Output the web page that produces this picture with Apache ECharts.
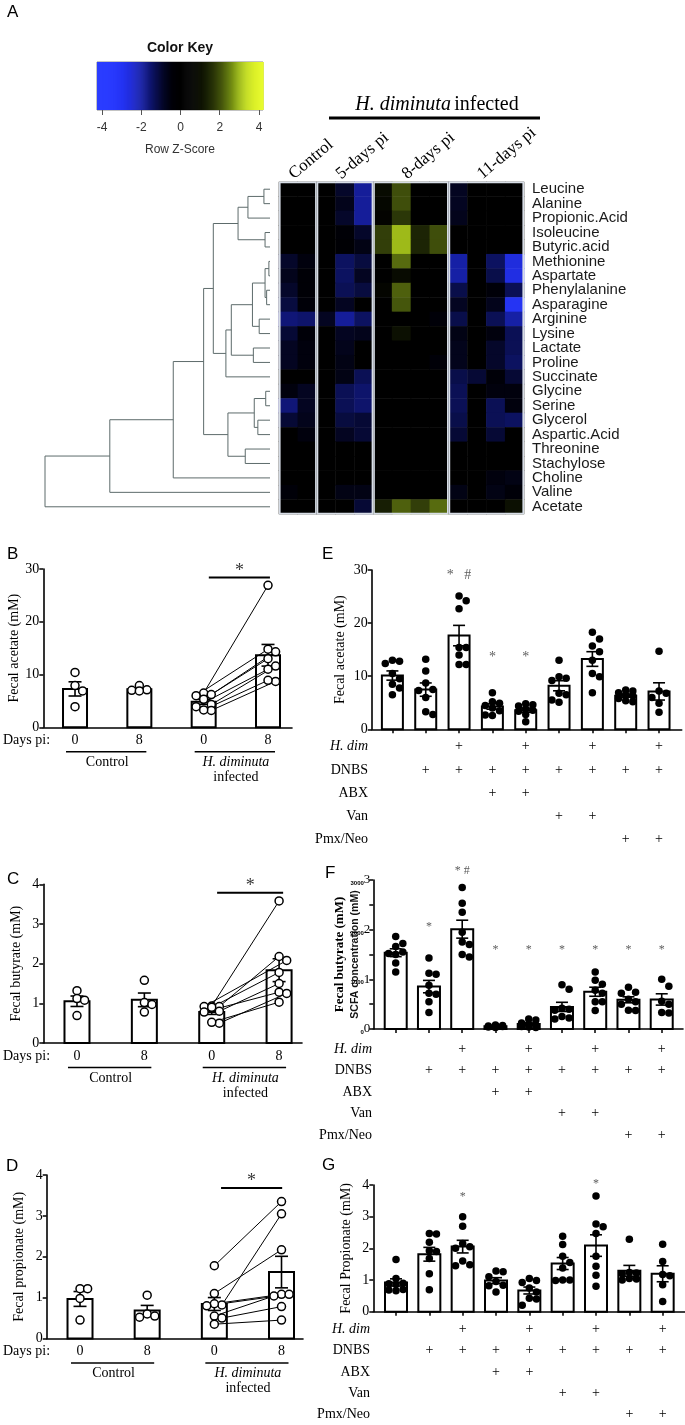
<!DOCTYPE html>
<html><head><meta charset="utf-8">
<script src="https://cdn.jsdelivr.net/npm/echarts@6/dist/echarts.min.js"></script>
<style>html,body{margin:0;padding:0;background:#fff}#c{width:685px;height:1425px}</style>
</head><body><div id="c"></div>
<script>
// ================= DATA =================
// Panel A heatmap
const metabolites = ['Leucine','Alanine','Propionic.Acid','Isoleucine','Butyric.acid','Methionine','Aspartate','Phenylalanine','Asparagine','Arginine','Lysine','Lactate','Proline','Succinate','Glycine','Serine','Glycerol','Aspartic.Acid','Threonine','Stachylose','Choline','Valine','Acetate'];
const sampleCols = ['C1','C2','P5a','P5b','P5c','P8a','P8b','P8c','P8d','P11a','P11b','P11c','P11d'];
const groupNames = ['Control','5-days pi','8-days pi','11-days pi'];
const groupSpans = [[0,2],[2,5],[5,9],[9,13]];
const zScores = [
  [0,0, 0,-0.9,-1.9, 0.9,2.0,0,0, -0.8,0,0,0],
  [0,0, 0,-0.7,-1.9, 0.8,2.0,0,0, -0.8,0,0,0],
  [0,0, 0,-0.9,-1.9, 0.6,1.7,0,0, -0.7,0,0,0],
  [0,0, 0,-0.3,-0.9, 1.8,3.0,1.4,2.0, 0,0,0,0],
  [0,0, 0,-0.2,-0.6, 1.8,3.0,1.4,2.0, 0,0,0,0],
  [-0.9,-0.5, 0,-1.4,-1.1, 0,2.3,0,0, -2.0,0,-1.4,-2.6],
  [-0.7,-0.3, 0,-1.4,-0.8, 0,0.9,0,0, -2.0,0,-1.2,-2.7],
  [-0.9,-0.3, 0,-1.3,-1.1, 0.7,2.2,0,0, -1.2,0,-0.4,-1.3],
  [-1.1,-0.4, 0,-0.8,0, 0,2.1,0,0, -0.8,0,-0.7,-3.0],
  [-1.6,-1.5, -0.8,-1.9,-1.4, 0,0,0,-0.4, -1.2,0,-1.3,-2.0],
  [-1.0,-0.4, 0,-0.8,-0.7, 0,1.0,0,0, -0.6,0,-0.5,-1.3],
  [-0.8,-0.5, 0,-0.7,0, 0,0,0,0, -0.7,0,-0.9,-1.3],
  [-0.8,-0.5, 0,-0.6,0, 0,0,0,-0.4, -0.7,0,-0.9,-1.4],
  [0,0, 0,-0.6,-1.3, 0,0,0,0, -1.2,-1.0,-0.4,-1.0],
  [-0.5,-0.8, 0,-1.3,-1.5, 0,0,0,0, -1.3,0,-0.5,-0.5],
  [-1.6,-0.8, 0,-1.3,-1.5, 0,0,0,0, -1.3,0,-1.3,-0.5],
  [-1.0,-0.7, 0,-1.1,-1.0, 0,0,0,0, -1.2,0,-1.3,-1.4],
  [0,-0.5, 0,-0.8,-1.0, 0,0,0,0, -1.0,0,-1.0,0],
  [0,0, 0,0,0, 0,0,0,0, 0,0,0,0],
  [0,0, 0,0,0, 0,0,0,0, 0,0,0,0],
  [0,0, 0,0,0, 0,0,0,0, 0,0,-0.5,-0.6],
  [-0.4,0, 0,-0.6,-0.6, 0,0,0,0, -0.6,0,-0.6,-0.4],
  [0,0, 0,0,-1.0, 1.3,2.2,1.8,2.3, 0,0,0,1.0]
];
// dendrogram merges: [childA, childB, height]; numbers refer to earlier merges
const dendroMerges = [
  ['Leucine','Alanine',0.27],[0,'Propionic.Acid',0.98],['Isoleucine','Butyric.acid',0.22],[1,2,1.42],
  ['Methionine','Aspartate',0.05],['Phenylalanine','Asparagine',0.15],[4,5,0.22],['Arginine','Lysine',0.48],
  [6,7,0.78],['Lactate','Proline',0.74],[8,9,1.72],[10,'Succinate',1.96],[3,11,2.52],
  ['Glycine','Serine',0.19],['Glycerol','Aspartic.Acid',0.54],[13,14,0.70],['Threonine','Stachylose',1.10],
  [15,16,1.87],[12,17,2.95],[18,'Choline',4.3],[19,'Valine',7.12],[20,'Acetate',10]
];
const keyTicks = [-4,-2,0,2,4];

// Panels B-D (paired, H. diminuta)
const dayLabels = ['0','8','0','8'];
const bCtrl0 = [10.4, 7.9, 6.9, 3.9];
const bCtrl8 = [7.9, 7.1, 7.0, 6.9];
const bInf0 = [6.5, 6.0, 6.2, 5.3, 4.3, 3.9, 3.2, 3.3];
const bInf8 = [26.9, 14.8, 14.3, 13.0, 11.6, 11.0, 8.7, 8.9];
const cCtrl0 = [1.32, 1.12, 1.08, 0.69];
const cCtrl8 = [1.58, 1.02, 0.97, 0.78];
const cInf0 = [0.93, 0.92, 0.92, 0.9, 0.8, 0.78, 0.5, 0.52];
const cInf8 = [3.58, 2.18, 2.08, 1.78, 1.5, 1.28, 1.25, 1.03];
const dCtrl0 = [1.22, 1.22, 0.98, 0.45];
const dCtrl8 = [1.06, 0.6, 0.52, 0.55];
const dInf0 = [1.78, 1.1, 0.82, 0.85, 0.8, 0.55, 0.5, 0.35];
const dInf8 = [3.35, 2.17, 3.05, 1.08, 1.08, 1.04, 0.78, 0.45];
const bSig = [2.08, 3.03, 28.4];
const cSig = [2.08, 3.06, 3.79];
const dSig = [2.1, 3.01, 3.68];

// Panels E-G (DNBS colitis groups)
const eAcetate = [
  [13.0,12.8,12.4,10.5,9.5,8.5,7.8,6.5],
  [13.2,11.0,8.7,7.5,7.3,6.0,3.3,2.8],
  [25.1,24.2,22.7,15.4,15.4,14.0,12.2,12.2],
  [6.9,5.2,4.9,4.5,4.0,3.5,2.7,2.6],
  [4.8,4.6,4.4,3.8,3.6,3.4,2.8,1.4],
  [13.0,9.9,9.6,9.2,6.5,6.8,5.5,5.1],
  [18.3,17.0,15.7,14.6,13.0,10.5,9.9,6.9],
  [7.4,7.2,6.9,6.5,6.3,5.8,5.4,5.2],
  [14.7,7.2,6.8,6.0,4.9,3.2]
];
const fButyrate = [
  [1.86,1.72,1.66,1.55,1.52,1.5,1.33,1.15],
  [1.43,1.12,1.1,0.88,0.72,0.7,0.55,0.33],
  [2.85,2.53,2.35,1.95,1.75,1.7,1.5,1.45],
  [0.08,0.07,0.06,0.05,0.05,0.04,0.03],
  [0.2,0.18,0.12,0.1,0.08,0.05,0.04,0.03],
  [0.89,0.8,0.42,0.4,0.38,0.25,0.22,0.2],
  [1.15,0.98,0.9,0.78,0.72,0.55,0.55,0.37],
  [0.84,0.74,0.72,0.6,0.55,0.5,0.38,0.37],
  [1.0,0.86,0.56,0.5,0.33,0.32]
];
const gPropionate = [
  [1.65,1.05,0.9,0.88,0.86,0.7,0.68,0.66],
  [2.47,2.45,2.19,1.92,1.9,1.68,1.2,0.69],
  [3.0,2.7,2.15,2.05,2.0,1.6,1.48,1.45],
  [1.28,1.26,1.1,0.95,0.83,0.82,0.62],
  [1.05,0.98,0.92,0.75,0.62,0.42,0.4,0.2],
  [2.38,2.12,1.75,1.55,1.38,1.0,1.0,0.98],
  [3.65,2.77,2.68,2.47,1.75,1.43,1.15,0.8],
  [2.29,1.24,1.22,1.2,1.05,1.03,1.0],
  [2.13,1.58,1.17,1.13,0.85,0.32]
];
const eStars = [[2,29.0,'*   #'],[3,13.6,'*'],[4,13.6,'*']];
const fStars = [[1,2.05,'*'],[2,3.18,'* #'],[3,1.6,'*'],[4,1.6,'*'],[5,1.6,'*'],[6,1.6,'*'],[7,1.6,'*'],[8,1.6,'*']];
const gStars = [[2,3.62,'*'],[6,4.05,'*']];
const treatRows = ['H. dim','DNBS','ABX','Van','Pmx/Neo'];
const hdimRow = [0,0,1,0,1,0,1,0,1];
const dnbsRow = [0,1,1,1,1,1,1,1,1];
const abxRow  = [0,0,0,1,1,0,0,0,0];
const vanRow  = [0,0,0,0,0,1,1,0,0];
const pmxRow  = [0,0,0,0,0,0,0,1,1];
const treatTable = [hdimRow, dnbsRow, abxRow, vanRow, pmxRow];

// ================= LAYOUT =================
const SERIF = "'Liberation Serif','Times New Roman',serif";
const SANS = "'Liberation Sans',Arial,sans-serif";
const G = {
  dendro:{left:45, top:182, width:225, height:332},
  heat:{left:279, top:182, width:245, height:332},
  key:{left:97, top:62, width:166, height:48},
  B:{left:43.3, top:569, width:248.7, height:158.3, xmin:-0.493, xmax:3.373, ymax:30, yint:10},
  C:{left:43.3, top:884.3, width:258.7, height:158.7, xmin:-0.5, xmax:3.34, ymax:4, yint:1},
  D:{left:46.7, top:1175, width:256.3, height:163.5, xmin:-0.496, xmax:3.32, ymax:4, yint:1},
  E:{left:371.7, top:570, width:310, height:159.3, xmin:-0.621, xmax:8.68, ymax:30, yint:10},
  F:{left:373.3, top:880, width:309.7, height:149, xmin:-0.674, xmax:8.64, ymax:3, yint:0.5},
  Gp:{left:373.3, top:1185, width:311.7, height:132.3, xmin:-0.681, xmax:8.67, ymax:4, yint:1}
};
const palette = ['#2b3dff','#2a3cff','#2838fc','#2433f2','#1f2bd8','#1822b0','#111880','#0a0f50','#040624','#000008','#000000','#000000','#060800','#151c04','#2a3508','#45560c','#6a8212','#98b418','#c2dc20','#dcf028','#e8fb30'];

function gridOf(g){return {left:g.left, top:g.top, width:g.width, height:g.height, containLabel:false};}
const grids = [gridOf(G.dendro), gridOf(G.heat), gridOf(G.heat), Object.assign(gridOf(G.key),{show:true,borderColor:'#888',borderWidth:1}),
  gridOf(G.B), gridOf(G.C), gridOf(G.D), gridOf(G.E), gridOf(G.F), gridOf(G.Gp)];
const hid = {show:false};
const xAxes = [], yAxes = [], series = [];

// ---- dendrogram (grid 0)
xAxes.push({gridIndex:0, type:'value', min:0, max:10, inverse:true, show:false});
yAxes.push({gridIndex:0, type:'value', min:-0.5, max:22.5, inverse:true, show:false});
(function(){
  const nodes = [];
  const info = c => typeof c === 'number' ? nodes[c] : {y: metabolites.indexOf(c), h:0};
  const lines = [];
  dendroMerges.forEach(m => {
    const a = info(m[0]), b = info(m[1]), h = m[2];
    lines.push({coords:[[a.h,a.y],[h,a.y],[h,b.y],[b.h,b.y]]});
    nodes.push({y:(a.y+b.y)/2, h:h});
  });
  series.push({type:'lines', coordinateSystem:'cartesian2d', xAxisIndex:0, yAxisIndex:0, polyline:true, silent:true,
    lineStyle:{color:'#5d6b6b', width:1, opacity:1}, data:lines});
})();

// ---- heatmap (grid 1)
xAxes.push({gridIndex:1, type:'category', data:sampleCols, show:false});
yAxes.push({gridIndex:1, type:'category', data:metabolites, inverse:true, position:'right',
  axisLine:hid, axisTick:hid, axisLabel:{interval:0, fontFamily:SANS, fontSize:15, color:'#1a1a1a', margin:8}});
const heatData = [];
zScores.forEach((row,r)=>row.forEach((z,c)=>heatData.push([c,r,z])));
const heatIdx = series.length;
series.push({type:'heatmap', xAxisIndex:1, yAxisIndex:1, data:heatData, silent:true, emphasis:{disabled:true}});

// ---- heatmap overlay: group boxes + column group labels (grid 2)
const groupLabelAt = groupSpans.map(s => (s[0]+s[1])/2 - 0.35);
xAxes.push({gridIndex:2, type:'value', min:0, max:13, position:'top', axisLine:hid, axisTick:hid, splitLine:hid,
  axisLabel:{customValues:groupLabelAt, rotate:40, margin:6, fontFamily:SERIF, fontSize:17, color:'#000',
    formatter:(v,i)=>groupNames[groupLabelAt.findIndex(x=>Math.abs(x-v)<1e-6)]}});
yAxes.push({gridIndex:2, type:'value', min:0, max:1, show:false});
series.push({type:'custom', xAxisIndex:2, yAxisIndex:2, silent:true, data:groupSpans,
  renderItem:(p,api)=>{const a=api.coord([api.value(0),1]), b=api.coord([api.value(1),0]);
    return {type:'rect', shape:{x:a[0]+0.8,y:a[1]+0.5,width:b[0]-a[0]-1.6,height:b[1]-a[1]-1},
      style:{fill:'none', stroke:'#d7dde6', lineWidth:1.6}};}});

// ---- color key (grid 3)
xAxes.push({gridIndex:3, type:'value', min:-4.255, max:4.204, position:'bottom', axisLine:hid, splitLine:hid,
  axisTick:{customValues:keyTicks, length:5, lineStyle:{color:'#555', width:1}},
  axisLabel:{customValues:keyTicks, fontFamily:SANS, fontSize:12, color:'#333', margin:12},
  name:'Row Z-Score', nameLocation:'middle', nameGap:34, nameTextStyle:{fontFamily:SANS, fontSize:12, color:'#333'}});
yAxes.push({gridIndex:3, type:'value', min:0, max:1, show:false});
const keySteps = [];
for (let v=-4.255; v<4.204; v+=0.05) keySteps.push([v, Math.min(v+0.05,4.204), v+0.025]);
const keyIdx = series.length;
series.push({type:'custom', xAxisIndex:3, yAxisIndex:3, silent:true, data:keySteps,
  renderItem:(p,api)=>{const a=api.coord([api.value(0),1]), b=api.coord([api.value(1),0]);
    return {type:'rect', shape:{x:a[0],y:a[1],width:b[0]-a[0]+0.6,height:b[1]-a[1]}, style:{fill:api.visual('color')}};}});

// ---- helpers for bar panels
const meanOf = a => a.reduce((s,v)=>s+v,0)/a.length;
const semOf = a => {const m=meanOf(a); return Math.sqrt(a.reduce((s,v)=>s+(v-m)*(v-m),0)/(a.length-1))/Math.sqrt(a.length);};
function swarm(vals, pxY, diam, maxOff){
  const placed=[], out=new Array(vals.length);
  const order = vals.map((v,i)=>i).sort((a,b)=>vals[b]-vals[a]);
  const cands=[0]; for(let k=1;k<=6;k++){cands.push(k*diam*0.95, -k*diam*0.95);}
  order.forEach(i=>{
    const y=vals[i]*pxY; let best=null, bestD=-1;
    for(const c of cands){ if(Math.abs(c)>maxOff) continue;
      const d = placed.length? Math.min(...placed.map(p=>Math.hypot(p.x-c,p.y-y))) : 1e9;
      if(d>=diam*0.98){best=c; bestD=d; break;}
      if(d>bestD){bestD=d; best=c;}
    }
    placed.push({x:best,y:y}); out[i]=best;
  });
  return out;
}
function barRender(w){return (p,api)=>{const x=api.value(0), v=api.value(1);
  const t=api.coord([x,v]), b=api.coord([x,0]);
  return {type:'rect', shape:{x:t[0]-w/2,y:t[1],width:w,height:b[1]-t[1]}, style:{fill:'#fff',stroke:'#000',lineWidth:2}};};}
function errRender(cap){return (p,api)=>{const x=api.value(0), m=api.value(1), s=api.value(2);
  const hi=api.coord([x,m+s]), lo=api.coord([x,m-s]); const st={stroke:'#000',lineWidth:1.6};
  return {type:'group', children:[
    {type:'line',shape:{x1:hi[0],y1:hi[1],x2:lo[0],y2:lo[1]},style:st},
    {type:'line',shape:{x1:hi[0]-cap/2,y1:hi[1],x2:hi[0]+cap/2,y2:hi[1]},style:st},
    {type:'line',shape:{x1:lo[0]-cap/2,y1:lo[1],x2:lo[0]+cap/2,y2:lo[1]},style:st}]};};}

const clear = 'rgba(0,0,0,0)';
function addBarPanel(gi, g, groups, o){
  const pxX = g.width/(g.xmax-g.xmin), pxY = g.height/g.ymax;
  const idx = groups.map((_,i)=>i);
  xAxes.push({gridIndex:gi, type:'value', min:g.xmin, max:g.xmax, splitLine:hid,
    axisLine:{onZero:false, lineStyle:{color:'#000', width:1.6}},
    axisTick:o.xTicks ? {customValues:idx, length:4, lineStyle:{color:'#000', width:1.5}} : hid,
    axisLabel:{customValues:idx, formatter:o.xFmt, fontFamily:SERIF, fontSize:o.xFont||14, color:'#000', margin:o.xMargin, lineHeight:o.xLine}});
  yAxes.push({gridIndex:gi, type:'value', min:0, max:g.ymax, interval:g.yint, splitLine:hid,
    axisLine:{show:true, onZero:false, lineStyle:{color:'#000', width:1.6}},
    axisTick:{show:true, length:4, lineStyle:{color:'#000', width:1.5}},
    axisLabel:Object.assign({fontFamily:SERIF, fontSize:14, color:'#000', margin:4}, o.yLabel||{}),
    name:o.yName, nameLocation:'middle', nameGap:o.nameGap, nameTextStyle:Object.assign({fontFamily:SERIF, fontSize:14, color:'#000'}, o.nameStyle||{})});
  const xi = xAxes.length-1, yi = yAxes.length-1;
  const ax = {xAxisIndex:xi, yAxisIndex:yi};
  const offs = groups.map(vals=>swarm(vals, pxY, o.dot, o.barW/2).map(px=>px/pxX));
  series.push(Object.assign({type:'custom', silent:true, z:2, data:groups.map((v,i)=>[i, meanOf(v)]), renderItem:barRender(o.barW)}, ax));
  if (o.pairs) {
    const [a,b] = o.pairs;
    series.push(Object.assign({type:'lines', coordinateSystem:'cartesian2d', silent:true, z:3,
      lineStyle:{color:'#000', width:1, opacity:1},
      data:groups[a].map((v,k)=>({coords:[[a+offs[a][k], v],[b+offs[b][k], groups[b][k]]]}))}, ax));
  }
  series.push(Object.assign({type:'custom', silent:true, z:4, data:groups.map((v,i)=>[i, meanOf(v), semOf(v)]), renderItem:errRender(o.cap)}, ax));
  const pts = [];
  groups.forEach((vals,i)=>vals.forEach((v,k)=>pts.push([i+offs[i][k], v])));
  series.push(Object.assign({type:'scatter', silent:true, z:5, clip:false, data:pts, symbol:'circle', symbolSize:o.dot,
    itemStyle:o.open ? {color:'#fff', borderColor:'#000', borderWidth:1.5, opacity:1} : {color:'#000', opacity:1}}, ax));
  if (o.sig) {
    series.push(Object.assign({type:'line', silent:true, z:5, symbol:'none', clip:false,
      lineStyle:{color:'#000', width:2}, data:[[o.sig[0], o.sig[2]],[o.sig[1], o.sig[2]]]}, ax));
    series.push(Object.assign({type:'scatter', silent:true, z:5, clip:false, symbolSize:1, itemStyle:{color:clear},
      data:[[(o.sig[0]+o.sig[1])/2, o.sig[2]]],
      label:{show:true, formatter:'*', position:'top', distance:-3, fontFamily:SERIF, fontSize:18, color:'#000'}}, ax));
  }
  if (o.stars) {
    series.push(Object.assign({type:'scatter', silent:true, z:5, clip:false, symbolSize:1, itemStyle:{color:clear},
      data:o.stars.map(s=>({value:[s[0], s[1]], label:{formatter:s[2]}})),
      label:{show:true, position:'inside', fontFamily:SERIF, fontSize:o.starFont||13, color:'#333'}}, ax));
  }
  return yi;
}
const dayFmt = (v)=>dayLabels[Math.round(v)];
const treatFmt = (v)=>{const i=Math.round(v); return treatTable.map(r=>r[i]?'+':' ').join('\n');};

addBarPanel(4, G.B, [bCtrl0,bCtrl8,bInf0,bInf8], {open:true, dot:8, barW:24, cap:13, pairs:[2,3], sig:bSig, xFmt:dayFmt, xMargin:6, yName:'Fecal acetate (mM)', nameGap:20});
addBarPanel(5, G.C, [cCtrl0,cCtrl8,cInf0,cInf8], {open:true, dot:8, barW:25, cap:13, pairs:[2,3], sig:cSig, xFmt:dayFmt, xMargin:6, yName:'Fecal butyrate (mM)', nameGap:20});
addBarPanel(6, G.D, [dCtrl0,dCtrl8,dInf0,dInf8], {open:true, dot:8, barW:25, cap:13, pairs:[2,3], sig:dSig, xFmt:dayFmt, xMargin:6, yName:'Fecal propionate (mM)', nameGap:20});
addBarPanel(7, G.E, eAcetate, {open:false, dot:7.5, barW:21, cap:12, xTicks:true, xFmt:treatFmt, xMargin:5.8, xLine:23.2, stars:eStars, starFont:14, yName:'Fecal acetate (mM)', nameGap:24});
addBarPanel(8, G.F, fButyrate, {open:false, dot:7.5, barW:22, cap:12, xTicks:true, xFmt:treatFmt, xMargin:9.6, xLine:21.4, stars:fStars, starFont:12, yName:'Fecal butyrate (mM)', nameGap:11,
  nameStyle:{fontWeight:'bold', fontSize:13},
  yLabel:{margin:3, formatter:v=>Math.abs(v-Math.round(v))<1e-6 ? '{s|'+Math.round(v*1000)+'}{b|'+Math.round(v)+'}' : '',
    rich:{s:{fontFamily:SANS, fontSize:6, fontWeight:'bold', color:'#000', verticalAlign:'bottom'}, b:{fontFamily:SERIF, fontSize:13, color:'#000'}}}});
addBarPanel(9, G.Gp, gPropionate, {open:false, dot:7.5, barW:22, cap:12, xTicks:true, xFmt:treatFmt, xMargin:7.1, xLine:21.25, stars:gStars, starFont:12, yName:'Fecal Propionate (mM)', nameGap:20});
// overlapping second title on panel F (as in the source figure)
yAxes.push({gridIndex:8, type:'value', position:'left', min:0, max:3, axisLine:{show:false, onZero:false}, axisTick:hid, axisLabel:hid, splitLine:hid,
  name:'SCFA concentration (mM)', nameLocation:'middle', nameGap:13, nameTextStyle:{fontFamily:SANS, fontSize:10.5, fontWeight:'bold', color:'#111'}});

const option = {
  animation:false, backgroundColor:'#fff',
  grid:grids, xAxis:xAxes, yAxis:yAxes, series:series,
  visualMap:[{type:'continuous', show:false, min:-4.2, max:4.2, dimension:2, seriesIndex:[heatIdx, keyIdx], inRange:{color:palette}}]
};
const chart = echarts.init(document.getElementById('c'), null, {width:685, height:1425});
chart.setOption(option);

// ================= ANNOTATIONS (graphic) =================
function T(x,y,text,o){return {type:'text', silent:true, x:x, y:y, style:Object.assign({text:text, fill:'#000', align:'left', verticalAlign:'middle', textAlign:'left', textVerticalAlign:'middle'}, o||{})};}
function Lh(x1,x2,y,w){return {type:'line', silent:true, shape:{x1:x1,y1:y,x2:x2,y2:y}, style:{stroke:'#000', lineWidth:w||1.5}};}
const gfx = [];
const letter = (t,x,y)=>gfx.push(T(x,y,t,{fontFamily:SANS, fontSize:17, verticalAlign:'top', textVerticalAlign:'top'}));
letter('A',7,4); letter('B',7,546); letter('C',7,871); letter('D',6,1158); letter('E',322,546); letter('F',325,865); letter('G',322,1157);
gfx.push(T(180,48,'Color Key',{fontFamily:SANS, fontSize:14, fontWeight:'bold', align:'center', textAlign:'center', fill:'#111'}));
gfx.push(T(437,105,'{i|H. diminuta} {n|infected}',{align:'center', textAlign:'center',
  rich:{i:{fontFamily:SERIF, fontStyle:'italic', fontSize:20, fill:'#000', color:'#000'}, n:{fontFamily:SERIF, fontSize:20, fill:'#000', color:'#000'}}}));
gfx.push(Lh(329,540,118,3));
[4,5,6].forEach(gi=>{
  const p0 = chart.convertToPixel({gridIndex:gi},[0,0]), p1 = chart.convertToPixel({gridIndex:gi},[1,0]);
  const p2 = chart.convertToPixel({gridIndex:gi},[2,0]), p3 = chart.convertToPixel({gridIndex:gi},[3,0]);
  const y = p0[1];
  gfx.push(T(3, y+13, 'Days pi:', {fontFamily:SERIF, fontSize:14}));
  gfx.push(Lh(p0[0]-9, p1[0]+7, y+24.5, 1.5));
  gfx.push(Lh(p2[0]-9, p3[0]+7, y+24.5, 1.5));
  gfx.push(T((p0[0]+p1[0])/2, y+35, 'Control', {fontFamily:SERIF, fontSize:14, align:'center', textAlign:'center'}));
  gfx.push(T((p2[0]+p3[0])/2, y+35, 'H. diminuta', {fontFamily:SERIF, fontSize:14, fontStyle:'italic', align:'center', textAlign:'center'}));
  gfx.push(T((p2[0]+p3[0])/2, y+50, 'infected', {fontFamily:SERIF, fontSize:14, align:'center', textAlign:'center'}));
});
[[7,368,5.8,23.2],[8,372,9.6,21.4],[9,370,7.1,21.25]].forEach(([gi,xr,mg,lh])=>{
  const y0 = chart.convertToPixel({gridIndex:gi},[0,0])[1] + mg + lh/2;
  treatRows.forEach((r,k)=>gfx.push(T(xr, y0+k*lh, r, {fontFamily:SERIF, fontSize:14, align:'right', textAlign:'right', fontStyle:k===0?'italic':'normal'})));
});
chart.setOption({graphic:{elements:gfx}});
</script></body></html>
